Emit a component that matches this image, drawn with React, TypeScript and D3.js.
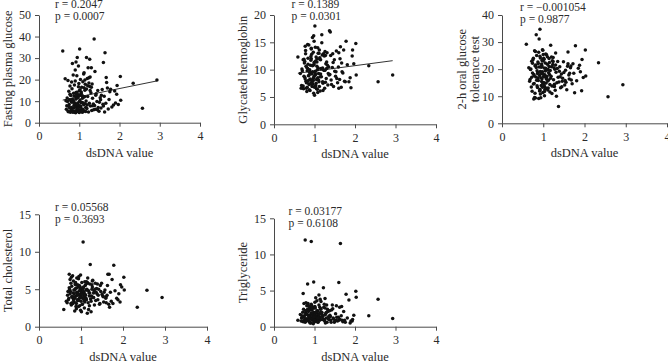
import React, { useEffect, useRef } from "react";
import * as d3 from "d3";

// dsDNA value for each patient (shared by all five panels)
const dsDNA = [
  0.59, 2.93, 2.57, 2.34, 2.02, 2.03, 1.01, 1.37, 1.64, 1.60,
  1.18, 1.26, 0.95, 0.92, 0.83, 0.98, 1.22, 1.30, 0.90, 1.39,
  1.12, 1.67, 1.68, 1.94, 1.78, 1.93, 1.55, 1.76, 0.65, 0.72,
  1.60, 1.20, 1.27, 1.15, 1.24, 1.09, 1.30, 1.46, 1.50, 1.85,
  0.68, 0.70, 0.73, 0.75, 0.77, 0.78, 0.80, 0.81, 0.82, 0.84,
  0.85, 0.86, 0.87, 0.88, 0.89, 0.90, 0.91, 0.92, 0.93, 0.94,
  0.95, 0.96, 0.97, 0.98, 0.99, 1.00, 1.01, 1.02, 1.03, 1.04,
  1.05, 1.06, 1.07, 1.08, 1.10, 1.11, 1.13, 1.14, 1.16, 1.17,
  1.19, 1.21, 1.23, 1.25, 1.28, 1.29, 1.31, 1.33, 1.35, 1.36,
  0.71, 0.74, 0.76, 0.79, 0.83, 0.87, 0.88, 0.91, 0.93, 0.96,
  0.97, 0.99, 1.00, 1.02, 1.04, 1.06, 1.08, 1.09, 1.12, 1.15,
  0.69, 0.72, 0.76, 0.78, 0.80, 0.82, 0.84, 0.86, 0.89, 0.92,
  0.94, 0.95, 0.98, 1.00, 1.01, 1.03, 1.05, 1.07, 1.10, 1.13,
  1.38, 1.40, 1.42, 1.44, 1.47, 1.49, 1.52, 1.54, 1.57, 1.59,
  1.62, 1.63, 1.66, 1.70, 1.72, 1.74, 1.81, 1.88, 1.90, 1.97,
  0.67, 0.77, 0.79, 0.85, 0.92, 0.94, 0.99, 1.03, 1.06, 1.11,
  1.14, 1.18, 1.21, 1.24, 1.27, 1.32, 1.34, 1.41, 1.45, 1.53,
  0.74, 0.81, 0.87, 0.93, 0.97, 1.02, 1.08, 1.16, 1.20, 1.26,
];

const fastingGlucose = [
  33.3, 19.8, 6.7, 18.3, 21.5, 10.4, 34.2, 38.9, 32.5, 28.0,
  30.3, 29.4, 30.3, 28.2, 27.5, 26.3, 25.5, 25.5, 24.5, 23.8,
  23.2, 21.0, 18.7, 17.3, 15.5, 13.2, 12.8, 14.4, 20.4, 19.6,
  7.7, 20.5, 21.2, 17.8, 18.4, 19.0, 16.5, 15.0, 9.5, 8.2,
  6.2, 11.5, 5.1, 8.4, 13.2, 4.8, 9.7, 7.1, 15.8, 5.6,
  10.3, 6.8, 12.4, 4.9, 8.9, 19.4, 5.5, 11.0, 7.6, 14.1,
  5.2, 9.1, 6.4, 16.7, 8.0, 4.7, 12.8, 10.5, 5.9, 7.3,
  13.5, 6.1, 9.4, 4.9, 11.9, 8.3, 5.4, 15.1, 7.0, 10.1,
  6.6, 12.2, 5.0, 9.0, 7.8, 13.9, 5.7, 11.3, 8.7, 6.0,
  9.8, 14.6, 6.9, 5.3, 10.9, 8.1, 17.5, 4.6, 12.0, 6.5,
  11.7, 5.8, 14.8, 7.4, 9.3, 5.1, 12.5, 6.3, 16.2, 8.8,
  7.9, 5.4, 10.6, 12.9, 6.0, 9.5, 4.8, 13.7, 7.2, 11.1,
  8.5, 6.7, 13.0, 5.0, 10.0, 7.7, 14.3, 5.6, 9.2, 12.1,
  8.0, 6.2, 13.4, 9.9, 7.1, 5.3, 11.6, 6.8, 15.4, 8.6,
  12.3, 5.0, 9.0, 16.1, 6.4, 10.8, 7.3, 14.7, 9.1, 8.4,
  10.2, 17.0, 12.6, 22.1, 14.0, 21.8, 18.2, 20.0, 16.4, 22.6,
  19.8, 15.6, 17.2, 20.9, 14.9, 18.0, 7.9, 12.7, 6.0, 10.7,
  7.5, 18.9, 9.6, 13.1, 6.3, 15.3, 11.4, 5.2, 8.2, 16.8,
];

const glycatedHb = [
  12.3, 9.0, 7.8, 10.7, 14.8, 9.0, 18.0, 17.1, 14.2, 13.1,
  16.4, 13.3, 15.9, 12.0, 14.6, 16.2, 12.9, 11.4, 10.8, 16.9,
  13.6, 11.2, 9.6, 13.6, 15.2, 12.5, 8.4, 7.8, 9.3, 11.8,
  6.6, 10.3, 12.6, 11.8, 9.9, 13.0, 10.2, 11.3, 9.7, 7.8,
  7.1, 9.8, 6.5, 11.2, 8.3, 13.5, 7.6, 10.4, 6.8, 12.1,
  8.9, 14.5, 7.3, 10.0, 6.2, 9.4, 11.7, 8.1, 12.8, 6.9,
  9.6, 7.4, 13.2, 8.6, 10.9, 5.3, 11.4, 7.0, 9.1, 12.3,
  8.2, 10.6, 6.4, 14.0, 9.3, 7.8, 11.9, 6.1, 10.1, 8.7,
  12.7, 7.5, 9.9, 6.6, 11.1, 8.4, 13.1, 7.2, 10.5, 9.0,
  6.7, 8.8, 11.5, 7.9, 10.2, 6.3, 9.5, 12.4, 7.7, 10.8,
  8.0, 11.3, 6.8, 9.7, 7.5, 12.0, 8.5, 10.3, 6.9, 9.2,
  10.1, 7.0, 8.6, 12.9, 6.6, 9.8, 11.0, 7.4, 8.3, 13.8,
  7.2, 10.7, 5.7, 8.9, 9.5, 11.6, 6.5, 10.0, 8.1, 12.2,
  9.1, 12.6, 7.3, 10.4, 6.9, 11.8, 8.8, 13.4, 7.6, 10.5,
  8.2, 12.0, 6.8, 9.4, 13.6, 7.9, 10.9, 8.5, 6.7, 11.1,
  6.6, 14.3, 10.6, 8.0, 13.9, 9.2, 15.2, 7.1, 11.4, 13.0,
  8.7, 14.9, 6.2, 12.5, 7.7, 10.8, 9.3, 8.1, 12.9, 9.6,
  11.9, 6.0, 9.0, 7.4, 8.4, 14.1, 5.8, 10.2, 7.8, 9.9,
];

const ogtt2h = [
  29.2, 14.2, 9.8, 22.4, 27.1, 17.5, 24.0, 6.2, 18.5, 26.3,
  28.8, 20.5, 21.0, 34.7, 32.7, 27.2, 23.1, 26.0, 31.1, 19.2,
  19.9, 21.2, 16.0, 23.6, 28.6, 12.0, 15.2, 11.3, 20.5, 17.0,
  22.0, 24.5, 13.6, 18.0, 22.8, 17.3, 21.5, 15.5, 18.8, 20.3,
  16.2, 20.1, 11.8, 23.5, 18.0, 14.7, 21.3, 9.3, 17.1, 25.0,
  19.4, 13.2, 22.6, 15.8, 9.2, 20.8, 17.7, 12.5, 24.1, 18.3,
  14.0, 21.9, 16.5, 19.0, 11.4, 23.0, 15.1, 20.4, 13.6, 17.9,
  22.3, 16.9, 19.8, 12.9, 24.6, 15.6, 18.7, 21.0, 14.3, 19.5,
  17.4, 13.8, 21.7, 16.1, 20.0, 12.2, 18.9, 15.0, 22.8, 17.0,
  13.4, 18.6, 24.0, 9.5, 20.6, 16.7, 22.1, 11.9, 19.1, 15.4,
  21.2, 14.8, 18.1, 23.7, 12.6, 20.3, 16.3, 19.7, 13.0, 22.5,
  19.9, 22.9, 14.5, 17.6, 11.1, 21.5, 15.9, 18.4, 26.2, 12.1,
  16.8, 20.7, 13.3, 25.4, 17.3, 11.7, 19.3, 14.9, 21.8, 16.0,
  15.3, 20.9, 13.1, 18.2, 16.6, 22.7, 14.1, 19.6, 12.4, 21.1,
  17.8, 16.4, 20.5, 14.6, 22.0, 18.5, 15.7, 21.4, 19.0, 16.9,
  15.5, 9.0, 26.8, 13.9, 24.8, 9.4, 27.0, 10.2, 25.6, 12.3,
  23.9, 16.6, 11.0, 24.3, 14.4, 10.0, 20.2, 17.2, 13.5, 15.8,
  22.2, 26.5, 18.8, 10.8, 23.2, 14.2, 25.3, 11.6, 20.9, 13.7,
];

const totalCholesterol = [
  2.3, 3.9, 4.85, 2.6, 6.6, 4.9, 4.4, 5.1, 7.0, 4.0,
  4.8, 5.6, 6.7, 3.5, 4.9, 5.2, 8.3, 3.9, 6.5, 5.7,
  3.8, 7.0, 2.6, 5.6, 8.2, 3.3, 4.6, 3.1, 3.4, 7.0,
  3.2, 4.1, 5.3, 1.8, 2.0, 6.0, 4.5, 5.5, 4.3, 3.8,
  4.2, 3.6, 5.0, 4.7, 2.9, 5.4, 3.9, 4.5, 6.1, 3.3,
  4.9, 3.8, 5.6, 4.1, 3.1, 4.6, 5.2, 3.5, 4.3, 6.4,
  3.7, 4.8, 2.8, 5.3, 4.0, 3.4, 4.7, 5.9, 3.0, 4.4,
  11.3, 3.9, 4.6, 2.5, 5.5, 4.2, 3.6, 4.9, 5.8, 3.2,
  4.5, 5.7, 3.7, 4.1, 6.2, 3.9, 4.8, 5.0, 3.5, 4.6,
  3.8, 4.4, 5.8, 3.2, 4.0, 5.1, 2.7, 4.5, 3.6, 5.5,
  4.3, 2.2, 5.0, 4.6, 3.8, 5.3, 4.1, 3.3, 4.9, 5.9,
  4.7, 5.2, 3.1, 4.0, 6.8, 3.6, 4.4, 5.7, 2.4, 4.2,
  5.4, 3.5, 4.8, 3.9, 2.0, 4.6, 5.1, 3.7, 4.3, 6.0,
  4.4, 3.6, 5.0, 3.0, 4.7, 5.8, 4.1, 3.3, 4.9, 3.8,
  4.2, 5.5, 3.0, 4.6, 3.4, 6.3, 4.8, 3.6, 4.4, 5.3,
  3.2, 6.6, 4.0, 2.1, 5.6, 2.7, 6.9, 3.0, 4.7, 5.6,
  5.0, 2.3, 4.5, 3.4, 6.1, 2.9, 5.8, 4.2, 3.1, 4.0,
  6.3, 3.1, 5.9, 4.4, 3.9, 4.3, 3.5, 6.5, 2.8, 5.0,
];

const triglyceride = [
  0.9, 1.15, 3.8, 1.5, 4.9, 4.06, 1.6, 2.2, 11.5, 6.1,
  1.9, 2.6, 1.2, 3.1, 5.9, 6.2, 5.4, 2.0, 2.3, 1.4,
  1.1, 2.8, 0.9, 1.0, 4.5, 0.8, 1.3, 0.6, 1.7, 0.7,
  0.9, 1.4, 0.5, 2.4, 1.0, 1.8, 3.0, 1.2, 0.8, 3.7,
  1.2, 0.8, 2.4, 1.5, 0.6, 1.9, 1.1, 2.9, 0.9, 1.6,
  2.1, 1.0, 1.4, 0.7, 2.6, 1.3, 0.5, 1.8, 1.1, 2.3,
  0.9, 1.7, 1.2, 2.0, 0.6, 1.5, 2.8, 1.0, 1.9, 0.8,
  1.4, 2.2, 0.7, 1.6, 1.1, 3.0, 0.9, 1.3, 2.5, 1.8,
  1.0, 1.5, 2.7, 0.8, 1.9, 1.2, 0.6, 2.1, 1.4, 1.0,
  2.0, 1.3, 0.9, 1.7, 2.4, 0.7, 1.6, 1.1, 2.9, 1.5,
  1.2, 2.6, 0.8, 1.9, 1.0, 1.4, 2.2, 0.6, 1.7, 2.0,
  1.5, 4.6, 1.0, 2.2, 0.8, 1.7, 3.2, 1.3, 0.5, 1.8,
  2.5, 1.1, 1.6, 0.9, 3.4, 1.4, 2.0, 0.7, 1.2, 2.7,
  1.6, 0.9, 2.3, 3.0, 1.1, 0.6, 1.8, 2.9, 0.8, 1.3,
  2.7, 1.0, 1.5, 0.7, 2.1, 0.9, 1.2, 0.5, 0.8, 1.6,
  0.8, 12.0, 3.3, 2.9, 11.8, 2.8, 1.3, 4.0, 3.6, 4.4,
  3.8, 2.0, 1.0, 3.1, 1.7, 2.4, 1.1, 0.6, 2.5, 0.9,
  3.2, 2.2, 2.8, 1.9, 0.4, 2.6, 1.2, 3.5, 1.5, 3.9,
];

const seriesList = [fastingGlucose, glycatedHb, ogtt2h, totalCholesterol, triglyceride];
const yLabels = [
  ["Fasting plasma glucose"],
  ["Glycated hemoglobin"],
  ["2-h oral glucose", "tolerance test"],
  ["Total cholesterol"],
  ["Triglyceride"],
];
const rValues = ["0.2047", "0.1389", "\u22120.001054", "0.05568", "0.03177"];
const pValues = ["0.0007", "0.0301", "0.9877", "0.3693", "0.6108"];
const yMax = [50, 20, 40, 15, 15];
const yStep = [10, 5, 10, 5, 5];
const xTicks = [0, 1, 2, 3, 4];
// fitted line [intercept, slope], only for the significant correlations
const fitLines = [[8.26, 3.8], [8.77, 0.98], null, null, null];

// panel frames in page pixels
const frames = [
  { left: 39, right: 200, top: 15, bottom: 122.7, statX: 55, statY: 7.5 },
  { left: 274, right: 436, top: 15, bottom: 124.3, statX: 291.5, statY: 7.5 },
  { left: 502, right: 667, top: 15, bottom: 123.3, statX: 520, statY: 10.7 },
  { left: 39, right: 207, top: 214.3, bottom: 326.7, statX: 55, statY: 211 },
  { left: 274, right: 436, top: 218.3, bottom: 326.7, statX: 288.5, statY: 215 },
];

const FONT = "'Liberation Serif', 'Times New Roman', serif";
const TEXT = "#2b2b2b";
const AXIS = "#4a4a4a";

const App = () => {
  const svgRef = useRef<SVGSVGElement>(null);

  useEffect(() => {
    const svg = d3.select(svgRef.current);
    svg.selectAll("*").remove();

    frames.forEach((f, i) => {
      const values = seriesList[i];
      const x = d3.scaleLinear().domain([0, 4]).range([f.left, f.right]);
      const y = d3.scaleLinear().domain([0, yMax[i]]).range([f.bottom, f.top]);
      const g = svg.append("g");

      // regression line sits under the points
      const fit = fitLines[i];
      if (fit) {
        const x0 = d3.min(dsDNA)!;
        const x1 = d3.max(dsDNA)!;
        g.append("line")
          .attr("x1", x(x0))
          .attr("x2", x(x1))
          .attr("y1", y(fit[0] + fit[1] * x0))
          .attr("y2", y(fit[0] + fit[1] * x1))
          .attr("stroke", "#333")
          .attr("stroke-width", 1);
      }

      g.append("g")
        .selectAll("circle")
        .data(dsDNA.map((d, k) => [d, values[k]]))
        .enter()
        .append("circle")
        .attr("cx", (d) => x(d[0]))
        .attr("cy", (d) => y(d[1]))
        .attr("r", 1.75)
        .attr("fill", "#111");

      // axes
      const yAxis = g
        .append("g")
        .attr("transform", `translate(${f.left},0)`)
        .call(
          d3
            .axisLeft(y)
            .tickValues(d3.range(0, yMax[i] + 0.001, yStep[i]))
            .tickFormat(d3.format("d"))
            .tickSize(4)
            .tickPadding(4)
            .tickSizeOuter(0)
        );
      const xAxis = g
        .append("g")
        .attr("transform", `translate(0,${f.bottom})`)
        .call(
          d3
            .axisBottom(x)
            .tickValues(xTicks)
            .tickFormat(d3.format("d"))
            .tickSize(4)
            .tickPadding(5)
            .tickSizeOuter(0)
        );

      [yAxis, xAxis].forEach((a) => {
        a.selectAll("path, line").attr("stroke", AXIS).attr("stroke-width", 1);
        a.selectAll("text")
          .attr("fill", TEXT)
          .style("font-family", FONT)
          .style("font-size", "12px");
      });

      // x axis title
      g.append("text")
        .attr("x", (f.left + f.right) / 2)
        .attr("y", f.bottom + 34)
        .attr("text-anchor", "middle")
        .attr("fill", TEXT)
        .style("font-family", FONT)
        .style("font-size", "12.5px")
        .text("dsDNA value");

      // y axis title (one or two lines)
      const lines = yLabels[i];
      const cy = (f.top + f.bottom) / 2;
      lines.forEach((t, k) => {
        const lx = lines.length === 1 ? f.left - 31 : f.left - 40 + k * 12.5;
        g.append("text")
          .attr("transform", `translate(${lx},${cy}) rotate(-90)`)
          .attr("text-anchor", "middle")
          .attr("dy", "0.35em")
          .attr("fill", TEXT)
          .style("font-family", FONT)
          .style("font-size", "12.5px")
          .text(t);
      });

      // correlation stats
      [`r = ${rValues[i]}`, `p = ${pValues[i]}`].forEach((t, k) => {
        g.append("text")
          .attr("x", f.statX)
          .attr("y", f.statY + k * 12)
          .attr("fill", TEXT)
          .style("font-family", FONT)
          .style("font-size", "11.5px")
          .text(t);
      });
    });
  }, []);

  return (
    <svg
      ref={svgRef}
      width={668}
      height={364}
      style={{ position: "absolute", left: 0, top: 0, background: "#fff" }}
    />
  );
};

export default App;
